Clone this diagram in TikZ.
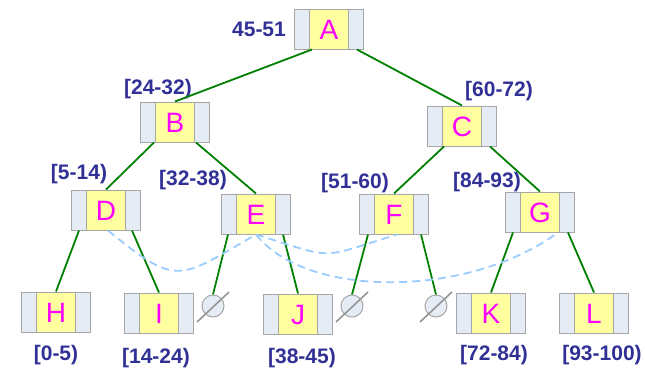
\documentclass[tikz,border=0pt]{standalone}
\usepackage{fontspec}
\setsansfont{Liberation Sans}

\definecolor{sideblue}{RGB}{230,236,245}
\definecolor{cellyellow}{RGB}{255,255,160}
\definecolor{boxgray}{RGB}{166,166,166}
\definecolor{rangeblue}{RGB}{48,48,150}
\definecolor{branchgreen}{RGB}{0,128,0}
\definecolor{threadblue}{RGB}{153,204,255}
\definecolor{lettermag}{RGB}{255,0,255}

\begin{document}
\begin{tikzpicture}[x=1pt, y=-1pt,
    cell/.style={draw=boxgray, line width=1pt, fill=sideblue,
        minimum width=69pt, minimum height=40pt, inner sep=0pt,
        text=lettermag, font=\sffamily\fontsize{28}{28}\selectfont,
        text height=20pt, text depth=0pt,
        path picture={
            \fill[cellyellow] ([xshift=15pt]path picture bounding box.south west)
                rectangle ([xshift=-15pt]path picture bounding box.north east);
            \draw[boxgray, line width=1pt]
                ([xshift=15pt]path picture bounding box.south west) -- ([xshift=15pt]path picture bounding box.north west)
                ([xshift=-15pt]path picture bounding box.south east) -- ([xshift=-15pt]path picture bounding box.north east);
        }},
    rangelabel/.style={text=rangeblue, font=\sffamily\bfseries\fontsize{21}{21}\selectfont,
        inner sep=0pt, text height=15pt, text depth=0pt},
    nullptr/.style={circle, draw=boxgray, line width=1pt, fill=sideblue,
        minimum size=22pt, inner sep=0pt},
    nullslash/.style={boxgray!90!black, line width=1.6pt},
    branch/.style={branchgreen, line width=1.8pt},
    thread/.style={draw=threadblue, line width=1.8pt, dash pattern=on 8pt off 5pt}]

    \useasboundingbox (0,0) rectangle (645,370);

    % tree cells
    \node[cell] (A) at (329,29) {A};
    \node[cell] (B) at (175,122) {B};
    \node[cell] (C) at (462,126) {C};
    \node[cell] (D) at (106,210) {D};
    \node[cell] (E) at (256,214) {E};
    \node[cell] (F) at (394,214) {F};
    \node[cell] (G) at (540,212) {G};
    \node[cell] (H) at (56,312) {H};
    \node[cell] (I) at (159,313) {I};
    \node[cell] (J) at (298,314) {J};
    \node[cell] (K) at (491,313) {K};
    \node[cell] (L) at (594,313) {L};

    % empty children
    \node[nullptr] (N1) at (213,306) {};
    \node[nullptr] (N2) at (352,306) {};
    \node[nullptr] (N3) at (436,306) {};
    \foreach \n in {N1,N2,N3}
        \draw[nullslash] ([shift={(-16,16)}]\n.center) -- ([shift={(16,-14)}]\n.center);

    % ranges
    \node[rangelabel] (lA) at (259,29) {45-51};
    \node[rangelabel] (lB) at (158,87) {[24-32)};
    \node[rangelabel] (lC) at (499,89) {[60-72)};
    \node[rangelabel] (lD) at (79,172) {[5-14)};
    \node[rangelabel] (lE) at (193,178) {[32-38)};
    \node[rangelabel] (lF) at (355,181) {[51-60)};
    \node[rangelabel] (lG) at (487,180) {[84-93)};
    \node[rangelabel] (lH) at (56,353) {[0-5)};
    \node[rangelabel] (lI) at (156,356) {[14-24)};
    \node[rangelabel] (lJ) at (302,356) {[38-45)};
    \node[rangelabel] (lK) at (494,353) {[72-84)};
    \node[rangelabel] (lL) at (602,353) {[93-100)};

    \path[branch]
        ([xshift=-17pt]A.south) edge (B.north)
        ([xshift=28pt]A.south) edge (C.north)
        ([xshift=-21pt]B.south) edge (D.north)
        ([xshift=21pt]B.south) edge (E.north)
        ([xshift=-18pt]C.south) edge (F.north)
        ([xshift=28pt]C.south) edge (G.north)
        ([xshift=-27pt]D.south) edge (H.north)
        ([xshift=26pt]D.south) edge (I.north)
        ([xshift=-28pt]E.south) edge (N1.north)
        ([xshift=27pt]E.south) edge (J.north)
        ([xshift=-26pt]F.south) edge (N2.north)
        ([xshift=27pt]F.south) edge (N3.north)
        ([xshift=-27pt]G.south) edge (K.north)
        ([xshift=28pt]G.south) edge (L.north);

    % threads
    \draw[thread] ([xshift=2pt]D.south) .. controls +(70,57) and +(-78,45) .. (E.south);
    \draw[thread] (E.south) .. controls +(81,25) and +(-81,25) .. ([xshift=3pt]F.south);
    \draw[thread] (E.south) .. controls +(50,64) and +(-90,66) .. ([xshift=18pt]G.south);
\end{tikzpicture}
\end{document}
